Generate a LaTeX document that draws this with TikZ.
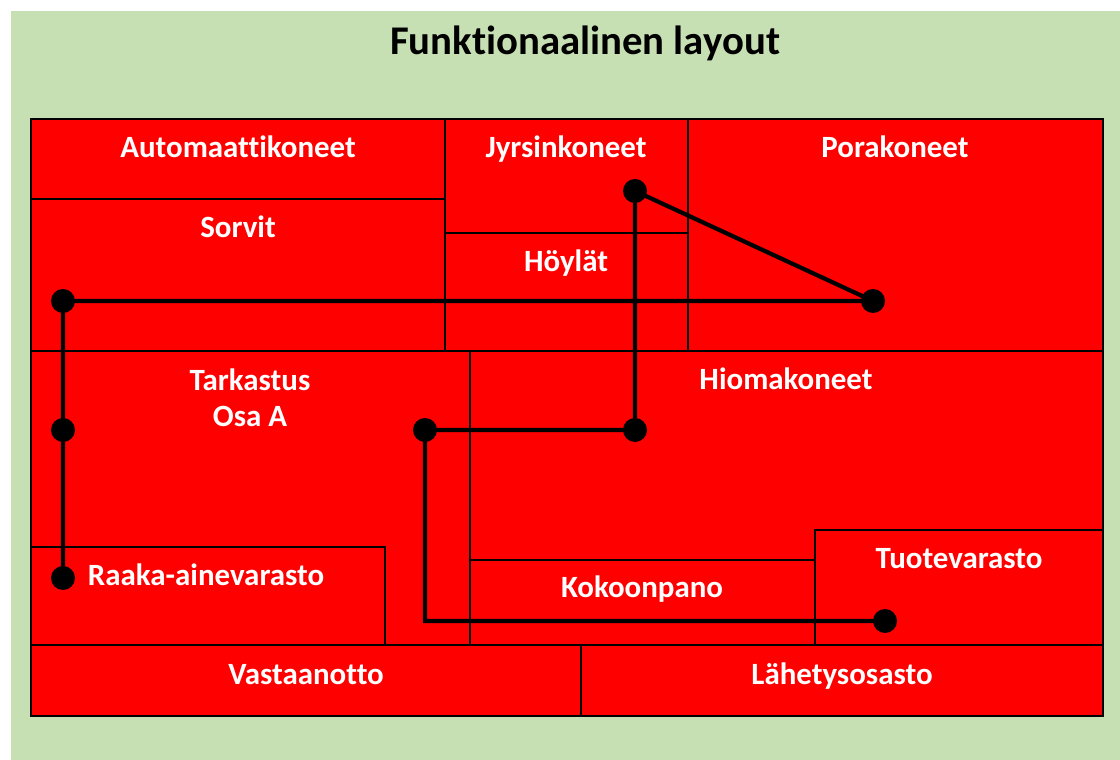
\documentclass[tikz,border=0pt]{standalone}
\usepackage{fontspec}
\setmainfont{Carlito}[Ligatures={NoCommon}]
\usepackage{tikz}
\definecolor{bgGreen}{RGB}{198,224,180}
\definecolor{deptRed}{RGB}{255,0,0}

\begin{document}
\begin{tikzpicture}[x=0.025cm,y=-0.025cm,
  dept/.style={draw=black,fill=deptRed,line width=0.8pt},
  lbl/.style={text=white,font=\fontsize{22}{25.6}\selectfont\bfseries,anchor=base,align=center,inner sep=0pt},
  dot/.style={circle,fill=black,inner sep=0pt,minimum size=6mm},
  route/.style={line width=3pt,draw=black}]
  \useasboundingbox (0,0) rectangle (1120,760);
  \fill[bgGreen] (11,11) rectangle (1120,760);
  \node[font=\fontsize{29}{34}\selectfont\bfseries] (title) at (585,43) {Funktionaalinen layout};
  % departments
  \draw[dept] (31,119) rectangle (445,199);
  \draw[dept] (31,199) rectangle (445,351);
  \draw[dept] (445,119) rectangle (688,233);
  \draw[dept] (445,233) rectangle (688,351);
  \draw[dept] (688,119) rectangle (1103,351);
  \draw[dept] (31,351) rectangle (470,645);
  \draw[dept] (470,351) rectangle (1103,645);
  \draw[dept] (31,547) rectangle (385,645);
  \draw[dept] (470,560) rectangle (815,645);
  \draw[dept] (815,530) rectangle (1103,645);
  \draw[dept] (31,645) rectangle (581,716);
  \draw[dept] (581,645) rectangle (1103,716);
  \node[lbl] (auto) at (238,158) {Automaattikoneet};
  \node[lbl] (sorvit) at (238,238) {Sorvit};
  \node[lbl] (jyrs) at (566,158) {Jyrsinkoneet};
  \node[lbl] (hoyl) at (566,272) {Höylät};
  \node[lbl] (pora) at (895,158) {Porakoneet};
  \node[lbl] (tark) at (250,427) {Tarkastus\\Osa A};
  \node[lbl] (hiom) at (786,390) {Hiomakoneet};
  \node[lbl] (raaka) at (206,586) {Raaka-ainevarasto};
  \node[lbl] (kok) at (642,598) {Kokoonpano};
  \node[lbl] (tuote) at (959,569) {Tuotevarasto};
  \node[lbl] (vast) at (306,684) {Vastaanotto};
  \node[lbl] (lah) at (842,684) {Lähetysosasto};
  % material flow
  \node[dot] (pJyrs) at (635,191) {};
  \node[dot] (pPora) at (873,301) {};
  \node[dot] (pSorv) at (63,301) {};
  \node[dot] (pTarkL) at (63,430) {};
  \node[dot] (pRaaka) at (63,578) {};
  \node[dot] (pTarkR) at (425,430) {};
  \node[dot] (pHiom) at (635,430) {};
  \node[dot] (pTuote) at (885,621) {};
  \draw[route] (pRaaka.center) -- (pTarkL.center) -- (pSorv.center) -- (pPora.center)
    -- (pJyrs.center) -- (pHiom.center) -- (pTarkR.center) |- (pTuote.center);
\end{tikzpicture}
\end{document}
